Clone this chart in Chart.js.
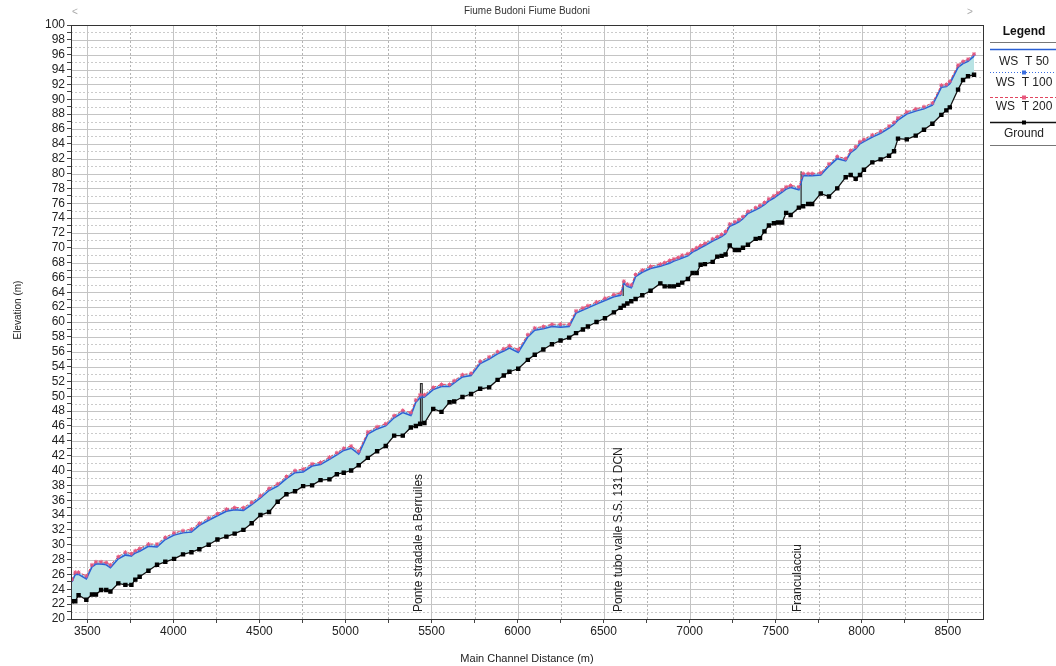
<!DOCTYPE html>
<html>
<head>
<meta charset="utf-8">
<script src="https://cdn.jsdelivr.net/npm/chart.js@4.4.1/dist/chart.umd.min.js"></script>
<style>
  html, body { margin: 0; padding: 0; background: #fff; }
  #wrap { width: 1056px; height: 666px; }
</style>
</head>
<body>
<div id="wrap"><canvas id="profile" width="1056" height="666"></canvas></div>
<script>
const stations = [
  3410, 3430, 3449, 3494, 3527, 3550, 3580, 3610, 3634, 3680, 3721, 3756, 3779, 3804, 3855, 3905, 3953, 4004, 4056, 4105,
  4151, 4205, 4256, 4308, 4356, 4407, 4455, 4506, 4556, 4606, 4657, 4707, 4754, 4806, 4855, 4907, 4950, 4990, 5033, 5077,
  5130, 5184, 5234, 5283, 5333, 5380, 5409, 5434, 5459, 5510, 5558, 5605, 5632, 5680, 5730, 5783, 5835, 5884, 5920, 5953,
  6004, 6060, 6100, 6150, 6200, 6250, 6300, 6340, 6380, 6409, 6459, 6508, 6560, 6599, 6618, 6638, 6661, 6686, 6725, 6773,
  6830, 6855, 6884, 6909, 6934, 6957, 6990, 7017, 7041, 7064, 7089, 7134, 7161, 7186, 7209, 7233, 7263, 7287, 7310, 7339,
  7384, 7409, 7435, 7461, 7490, 7513, 7538, 7561, 7587, 7635, 7660, 7689, 7712, 7762, 7810, 7858, 7907, 7936, 7965, 7990,
  8013, 8062, 8110, 8159, 8188, 8211, 8262, 8314, 8362, 8411, 8463, 8492, 8512, 8560, 8589, 8618, 8653
];
const ground = [
  22.4, 22.4, 23.2, 22.6, 23.3, 23.3, 23.9, 23.9, 23.7, 24.8, 24.6, 24.6, 25.3, 25.7, 26.5, 27.3, 27.7, 28.1, 28.7, 29.0,
  29.4, 30.0, 30.7, 31.1, 31.5, 32.0, 32.9, 34.0, 34.4, 35.8, 36.8, 37.2, 37.9, 38.0, 38.7, 38.8, 39.5, 39.7, 40.0, 40.7,
  41.7, 42.6, 43.3, 44.7, 44.7, 45.8, 46.0, 46.3, 46.4, 48.3, 47.9, 49.2, 49.3, 49.9, 50.3, 51.0, 51.2, 52.2, 52.8, 53.3,
  53.7, 54.9, 55.6, 56.3, 57.0, 57.5, 57.9, 58.5, 59.0, 59.4, 60.0, 60.5, 61.3, 61.9, 62.2, 62.5, 62.8, 63.1, 63.6, 64.2,
  65.2, 64.8, 64.8, 64.8, 65.0, 65.3, 65.8, 66.6, 66.6, 67.7, 67.8, 68.1, 68.8, 68.9, 69.1, 70.3, 69.7, 69.7, 70.0, 70.4,
  71.2, 71.3, 72.2, 73.0, 73.3, 73.4, 73.4, 74.7, 74.4, 75.4, 75.6, 75.9, 75.9, 77.3, 76.9, 78.0, 79.5, 79.8, 79.3, 79.8,
  80.5, 81.5, 81.9, 82.4, 83.0, 84.7, 84.6, 85.1, 85.9, 86.7, 87.9, 88.5, 88.9, 91.3, 92.6, 93.1, 93.3
];
const wsT50 = [
  25.0, 26.0, 26.0, 25.4, 27.0, 27.4, 27.4, 27.3, 26.9, 28.1, 28.6, 28.5, 28.9, 29.1, 29.8, 29.7, 30.7, 31.3, 31.6, 31.7,
  32.6, 33.3, 33.9, 34.5, 34.7, 34.6, 35.4, 36.3, 37.3, 37.9, 38.9, 39.7, 39.8, 40.6, 40.8, 41.5, 42.1, 42.7, 43.0, 42.2,
  44.9, 45.6, 46.0, 47.1, 47.8, 47.4, 49.2, 49.8, 49.9, 50.9, 51.3, 51.3, 51.8, 52.6, 52.8, 54.4, 55.0, 55.7, 56.1, 56.5,
  55.9, 58.0, 58.9, 59.1, 59.4, 59.3, 59.4, 61.2, 61.6, 61.9, 62.4, 62.9, 63.4, 63.6, 65.2, 64.8, 64.6, 66.1, 66.7, 67.2,
  67.5, 67.7, 67.9, 68.2, 68.4, 68.6, 68.9, 69.4, 69.7, 70.0, 70.3, 70.9, 71.2, 71.5, 71.9, 72.9, 73.2, 73.5, 73.9, 74.6,
  75.1, 75.4, 75.8, 76.3, 76.7, 77.1, 77.5, 77.9, 78.1, 77.8, 79.7, 79.7, 79.7, 79.8, 81.0, 82.0, 81.7, 82.8, 83.3, 84.0,
  84.3, 84.9, 85.4, 86.1, 86.6, 87.2, 88.0, 88.4, 88.7, 89.2, 91.6, 91.7, 92.1, 94.3, 94.8, 95.1, 95.8
];
const wsT100 = [
  25.2, 26.1, 26.2, 25.6, 27.2, 27.5, 27.5, 27.5, 27.1, 28.3, 28.8, 28.6, 29.1, 29.3, 30.0, 29.9, 30.9, 31.5, 31.8, 31.9,
  32.8, 33.5, 34.1, 34.7, 34.9, 34.8, 35.6, 36.5, 37.5, 38.1, 39.1, 39.9, 40.0, 40.8, 41.0, 41.7, 42.3, 42.9, 43.2, 42.4,
  45.1, 45.8, 46.2, 47.3, 48.0, 47.6, 49.4, 50.0, 50.1, 51.1, 51.5, 51.5, 52.0, 52.8, 53.0, 54.6, 55.2, 55.9, 56.3, 56.7,
  56.1, 58.2, 59.1, 59.3, 59.6, 59.5, 59.6, 61.4, 61.8, 62.1, 62.6, 63.1, 63.6, 63.8, 65.4, 65.0, 64.8, 66.3, 66.9, 67.4,
  67.7, 67.9, 68.1, 68.4, 68.6, 68.8, 69.1, 69.6, 69.9, 70.2, 70.5, 71.1, 71.4, 71.7, 72.1, 73.1, 73.4, 73.7, 74.1, 74.8,
  75.3, 75.6, 76.0, 76.5, 76.9, 77.3, 77.7, 78.1, 78.3, 78.0, 79.9, 79.9, 79.9, 80.0, 81.2, 82.2, 81.9, 83.0, 83.5, 84.2,
  84.5, 85.1, 85.6, 86.3, 86.8, 87.4, 88.2, 88.6, 88.9, 89.4, 91.8, 91.9, 92.3, 94.5, 95.0, 95.3, 96.0
];
const wsT200 = [
  25.3, 26.3, 26.3, 25.8, 27.3, 27.7, 27.7, 27.6, 27.3, 28.4, 29.0, 28.8, 29.2, 29.5, 30.1, 30.1, 31.0, 31.6, 31.9, 32.1,
  32.9, 33.6, 34.2, 34.8, 35.0, 35.0, 35.7, 36.6, 37.6, 38.2, 39.2, 40.0, 40.2, 40.9, 41.1, 41.8, 42.4, 43.0, 43.3, 42.6,
  45.2, 45.9, 46.3, 47.4, 48.1, 47.8, 49.5, 50.2, 50.2, 51.2, 51.6, 51.6, 52.1, 52.9, 53.1, 54.7, 55.3, 56.0, 56.4, 56.8,
  56.3, 58.3, 59.2, 59.4, 59.7, 59.7, 59.7, 61.5, 61.9, 62.2, 62.7, 63.2, 63.7, 63.9, 65.5, 65.1, 65.0, 66.4, 67.0, 67.5,
  67.8, 68.0, 68.3, 68.5, 68.7, 69.0, 69.2, 69.7, 70.0, 70.3, 70.6, 71.2, 71.5, 71.8, 72.2, 73.2, 73.5, 73.8, 74.2, 74.9,
  75.4, 75.7, 76.1, 76.6, 77.0, 77.4, 77.8, 78.2, 78.4, 78.2, 80.0, 80.0, 80.0, 80.1, 81.3, 82.3, 82.0, 83.1, 83.6, 84.3,
  84.6, 85.2, 85.7, 86.4, 86.9, 87.5, 88.3, 88.7, 89.0, 89.5, 91.9, 92.0, 92.4, 94.6, 95.1, 95.4, 96.1
];

// ponti
const bridgeNames = ['Ponte stradale a Berruiles', 'Ponte tubo valle S.S. 131 DCN', 'Franculacciu'];
const bridgeLabelAt = [5424, 6587, 7628];
const bridgeLeft = [5436, 6614, 7648];
const bridgeRight = [5446, 6614, 7648];
const bridgeLow = [46.3, 63.5, 75.5];
const bridgeHigh = [51.7, 65.3, 80.3];

const seriesNames = ['WS  T 50', 'WS  T 100', 'WS  T 200', 'Ground'];
const xTickLabels = [3500, 4000, 4500, 5000, 5500, 6000, 6500, 7000, 7500, 8000, 8500];
const yTickLabels = [20, 22, 24, 26, 28, 30, 32, 34, 36, 38, 40, 42, 44, 46, 48, 50, 52, 54, 56, 58, 60,
  62, 64, 66, 68, 70, 72, 74, 76, 78, 80, 82, 84, 86, 88, 90, 92, 94, 96, 98, 100];
const xMin = 3405, xMax = 8705, yMin = 20, yMax = 100;

const FONT = '"Liberation Sans", Arial, sans-serif';

const pts = arr => stations.map((x, i) => ({ x: x, y: arr[i] }));

// tick minori a metà tra le etichette
const xTicks = [];
xTickLabels.forEach((v, i) => { xTicks.push(v); if (i < xTickLabels.length - 1) xTicks.push(v + 250); });
const yTicks = [];
yTickLabels.forEach((v, i) => { yTicks.push(v); if (i < yTickLabels.length - 1) yTicks.push(v + 1); });

const bridgeSets = bridgeNames.map((name, i) => ({
  label: name,
  data: [
    { x: bridgeLeft[i], y: bridgeLow[i] },
    { x: bridgeLeft[i], y: bridgeHigh[i] },
    { x: bridgeRight[i], y: bridgeHigh[i] },
    { x: bridgeRight[i], y: bridgeLow[i] }
  ],
  borderColor: '#2b2b2b',
  borderWidth: 1.2,
  pointRadius: 0,
  fill: false
}));

const decor = {
  id: 'decor',
  beforeDraw(chart) {
    const { ctx, chartArea: a, scales: { x, y } } = chart;
    ctx.save();
    ctx.fillStyle = '#fff';
    ctx.fillRect(0, 0, chart.width, chart.height);
    ctx.lineWidth = 1;
    yTicks.forEach(v => {
      const py = Math.round(y.getPixelForValue(v)) + 0.5;
      ctx.beginPath();
      if (yTickLabels.includes(v)) { ctx.strokeStyle = '#c4c4c4'; ctx.setLineDash([]); }
      else { ctx.strokeStyle = '#cbcbcb'; ctx.setLineDash([2, 2]); }
      ctx.moveTo(a.left, py); ctx.lineTo(a.right, py); ctx.stroke();
    });
    xTicks.forEach(v => {
      const px = Math.round(x.getPixelForValue(v)) + 0.5;
      ctx.beginPath();
      if (xTickLabels.includes(v)) { ctx.strokeStyle = '#c4c4c4'; ctx.setLineDash([]); }
      else { ctx.strokeStyle = '#b4b4b4'; ctx.setLineDash([2, 2]); }
      ctx.moveTo(px, a.top); ctx.lineTo(px, a.bottom); ctx.stroke();
    });
    ctx.restore();
  },
  afterDraw(chart) {
    const { ctx, chartArea: a, scales: { x } } = chart;
    ctx.save();
    // cornice
    ctx.strokeStyle = '#333';
    ctx.lineWidth = 1;
    ctx.strokeRect(a.left + 0.5, a.top + 0.5, a.right - a.left, a.bottom - a.top);

    // titolo
    ctx.fillStyle = '#333';
    ctx.font = '10px ' + FONT;
    ctx.textAlign = 'center';
    ctx.textBaseline = 'middle';
    ctx.fillText('Fiume Budoni Fiume Budoni', (a.left + a.right) / 2, 11);
    ctx.fillStyle = '#aaa';
    ctx.fillText('<', a.left + 4, 12);
    ctx.fillText('>', a.right - 13, 12);

    // titolo asse y
    ctx.save();
    ctx.fillStyle = '#222';
    ctx.translate(18, 310);
    ctx.rotate(-Math.PI / 2);
    ctx.fillText('Elevation (m)', 0, 0);
    ctx.restore();

    // nomi dei ponti
    ctx.fillStyle = '#222';
    ctx.font = '12px ' + FONT;
    ctx.textAlign = 'left';
    bridgeNames.forEach((name, i) => {
      const px = x.getPixelForValue(bridgeLabelAt[i]);
      ctx.save();
      ctx.translate(px, a.bottom - 7);
      ctx.rotate(-Math.PI / 2);
      ctx.fillText(name, 0, 0);
      ctx.restore();
    });

    // legenda
    const L = a.right + 7, R = chart.width, cx = (L + R) / 2 + 1;
    ctx.font = 'bold 12px ' + FONT;
    ctx.textAlign = 'center';
    ctx.fillStyle = '#111';
    ctx.fillText('Legend', cx, 32);
    ctx.strokeStyle = '#777';
    ctx.lineWidth = 1;
    ctx.beginPath(); ctx.moveTo(L, 42.5); ctx.lineTo(R, 42.5); ctx.stroke();
    const symY = [49, 72, 97, 122];
    const txtY = [62, 83, 107, 134];
    const order = [3, 2, 1, 0];
    seriesNames.forEach((name, k) => {
      const ds = chart.data.datasets[order[k]];
      ctx.strokeStyle = ds.borderColor;
      ctx.lineWidth = ds.borderWidth;
      ctx.setLineDash(ds.borderDash || []);
      ctx.beginPath(); ctx.moveTo(L, symY[k] + 0.5); ctx.lineTo(R, symY[k] + 0.5); ctx.stroke();
      ctx.setLineDash([]);
      if (ds.pointRadius > 0) {
        ctx.fillStyle = ds.pointBackgroundColor;
        ctx.fillRect(cx - 2, symY[k] - 1.5, 4, 4);
      }
      ctx.fillStyle = '#222';
      ctx.font = '12px ' + FONT;
      ctx.fillText(name, cx, txtY[k]);
    });
    ctx.strokeStyle = '#777';
    ctx.lineWidth = 1;
    ctx.beginPath(); ctx.moveTo(L, 145.5); ctx.lineTo(R, 145.5); ctx.stroke();
    ctx.restore();
  }
};

new Chart(document.getElementById('profile'), {
  type: 'line',
  data: {
    datasets: [
      {
        label: 'Ground',
        data: pts(ground),
        borderColor: '#111',
        borderWidth: 1.3,
        pointStyle: 'rect',
        pointRadius: 2.2,
        pointBackgroundColor: '#000',
        pointBorderColor: '#000',
        fill: false
      },
      {
        label: 'WS  T 200',
        data: pts(wsT200),
        borderColor: '#e2455e',
        borderWidth: 1,
        borderDash: [3, 2],
        pointStyle: 'star',
        pointRadius: 2,
        pointBorderWidth: 1,
        pointBorderColor: '#e8587e',
        pointBackgroundColor: '#e8587e',
        fill: { target: 0 },
        backgroundColor: '#b8e3e4'
      },
      {
        label: 'WS  T 100',
        data: pts(wsT100),
        borderColor: '#3b6fe0',
        borderWidth: 1,
        borderDash: [1, 2],
        pointRadius: 1.1,
        pointBackgroundColor: '#3b6fe0',
        pointBorderColor: '#3b6fe0',
        fill: false
      },
      {
        label: 'WS  T 50',
        data: pts(wsT50),
        borderColor: '#2a5fd4',
        borderWidth: 1.5,
        pointRadius: 0,
        fill: false
      },
      ...bridgeSets
    ]
  },
  options: {
    responsive: false,
    animation: false,
    devicePixelRatio: 1,
    layout: { padding: { left: 0, right: 73, top: 25, bottom: 0 } },
    elements: { line: { tension: 0 } },
    plugins: {
      legend: { display: false },
      tooltip: { enabled: false },
      filler: { drawTime: 'beforeDatasetsDraw', propagate: false }
    },
    scales: {
      x: {
        type: 'linear',
        min: xMin,
        max: xMax,
        afterBuildTicks: s => { s.ticks = xTicks.map(v => ({ value: v })); },
        afterFit: s => { s.height = 47; },
        grid: { drawOnChartArea: false, drawTicks: true, tickLength: 4, color: '#444' },
        border: { display: false },
        ticks: {
          autoSkip: false,
          maxRotation: 0,
          padding: 1,
          color: '#222',
          font: { family: FONT, size: 12 },
          callback: v => xTickLabels.includes(v) ? String(v) : ''
        },
        title: {
          display: true,
          text: 'Main Channel Distance (m)',
          color: '#222',
          font: { family: FONT, size: 11 },
          padding: { top: 1, bottom: 0 }
        }
      },
      y: {
        type: 'linear',
        min: yMin,
        max: yMax,
        afterBuildTicks: s => { s.ticks = yTicks.map(v => ({ value: v })); },
        afterFit: s => { s.width = 71; },
        grid: { drawOnChartArea: false, drawTicks: true, tickLength: 4, color: '#444' },
        border: { display: false },
        ticks: {
          autoSkip: false,
          padding: 2,
          color: '#222',
          font: { family: FONT, size: 12 },
          callback: v => yTickLabels.includes(v) ? String(v) : ''
        }
      }
    }
  },
  plugins: [decor]
});
</script>
</body>
</html>
